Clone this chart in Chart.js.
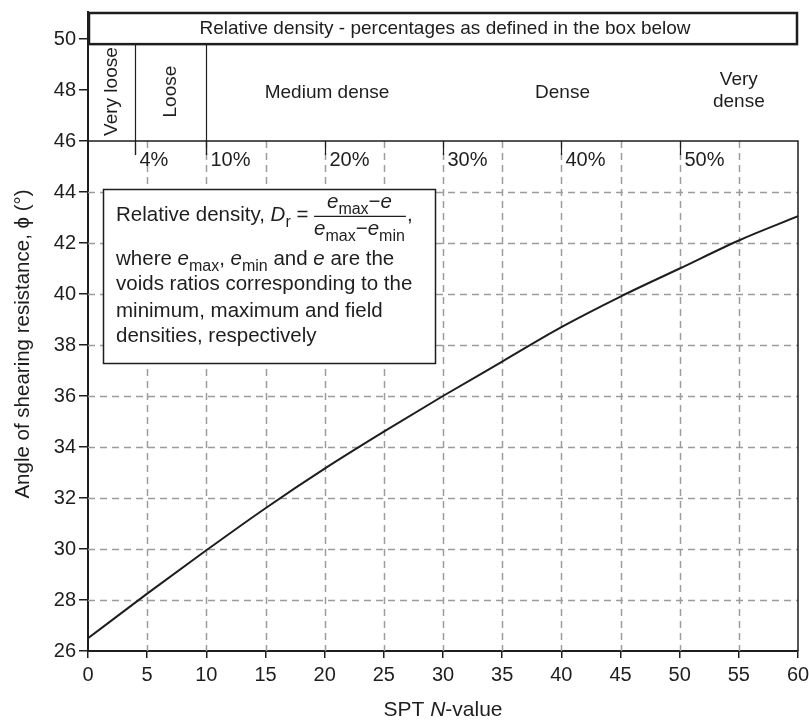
<!DOCTYPE html>
<html>
<head>
<meta charset="utf-8">
<script src="https://cdn.jsdelivr.net/npm/chart.js@4/dist/chart.umd.min.js"></script>
<style>
  html, body { margin: 0; padding: 0; background: #fff; }
  #wrap { width: 809px; height: 720px; position: relative; }
</style>
</head>
<body>
<div id="wrap"><canvas id="chart"></canvas></div>
<script>
const FONT = '"Liberation Sans", Arial, Helvetica, sans-serif';
const INK = '#1e1e1e';

// SPT N-value vs angle of shearing resistance
const nValues = [0, 5, 10, 15, 20, 25, 30, 35, 40, 45, 50, 55, 60];
const phiValues = [26.5, 28.25, 29.95, 31.6, 33.15, 34.6, 36.0, 37.35, 38.7, 39.9, 41.0, 42.1, 43.05];

const yTicks = [26, 28, 30, 32, 34, 36, 38, 40, 42, 44, 46, 48, 50];
const gridY = [28, 30, 32, 34, 36, 38, 40, 42, 44];
const gridX = [5, 10, 15, 20, 25, 30, 35, 40, 45, 50, 55];

// density classes along the top strip
const zoneDividers = [4, 10];
const percentMarks = [4, 10, 20, 30, 40, 50];
const percentLabels = ['4%', '10%', '20%', '30%', '40%', '50%'];
const zoneNames = ['Very loose', 'Loose', 'Medium dense', 'Dense', 'Very dense'];
const zoneCentres = [2, 7, 20.2, 40.1, 55];

function font(size, italic) {
  return (italic ? 'italic ' : '') + size + 'px ' + FONT;
}

// draw a row of text runs: {t, i (italic), sub}
function drawRuns(ctx, x, y, runs, size) {
  ctx.textAlign = 'left';
  ctx.textBaseline = 'alphabetic';
  for (const r of runs) {
    const s = r.sub ? Math.round(size * 0.78) : size;
    ctx.font = font(s, r.i);
    ctx.fillText(r.t, x, r.sub ? y + size * 0.28 : y);
    x += ctx.measureText(r.t).width;
  }
  return x;
}
function runsWidth(ctx, runs, size) {
  let w = 0;
  for (const r of runs) {
    ctx.font = font(r.sub ? Math.round(size * 0.78) : size, r.i);
    w += ctx.measureText(r.t).width;
  }
  return w;
}

const decor = {
  id: 'decor',
  beforeDatasetsDraw(chart) {
    const { ctx, chartArea: a, scales: { x, y } } = chart;
    ctx.save();

    // dashed grid, only in the lower part
    ctx.strokeStyle = '#9c9c9c';
    ctx.lineWidth = 1.5;
    ctx.setLineDash([7, 5]);
    for (const v of gridY) {
      const py = Math.round(y.getPixelForValue(v)) + 0.5;
      ctx.beginPath(); ctx.moveTo(a.left, py); ctx.lineTo(a.right, py); ctx.stroke();
    }
    const top46 = y.getPixelForValue(46);
    for (const v of gridX) {
      const px = Math.round(x.getPixelForValue(v)) + 0.5;
      ctx.beginPath(); ctx.moveTo(px, top46); ctx.lineTo(px, a.bottom); ctx.stroke();
    }
    ctx.setLineDash([]);

    // frame of the lower plot
    ctx.strokeStyle = INK;
    ctx.lineWidth = 1.5;
    ctx.beginPath();
    ctx.moveTo(a.left, top46); ctx.lineTo(a.right, top46); ctx.lineTo(a.right, a.bottom);
    ctx.stroke();

    // header box
    const hb = y.getPixelForValue(49.8);
    ctx.lineWidth = 2.5;
    ctx.strokeRect(a.left + 1, a.top + 1, a.right - a.left - 2, hb - a.top - 1);
    ctx.fillStyle = INK;
    ctx.font = font(19);
    ctx.textAlign = 'center';
    ctx.textBaseline = 'middle';
    ctx.fillText('Relative density - percentages as defined in the box below', (a.left + a.right) / 2 + 2, (a.top + hb) / 2 + 1);

    // class dividers and percentage marks
    const low = y.getPixelForValue(45.45);
    ctx.lineWidth = 1.2;
    for (const v of zoneDividers) {
      const px = Math.round(x.getPixelForValue(v)) + 0.5;
      ctx.beginPath(); ctx.moveTo(px, hb); ctx.lineTo(px, low); ctx.stroke();
    }
    ctx.font = font(20);
    ctx.textAlign = 'left';
    percentMarks.forEach((v, i) => {
      const px = Math.round(x.getPixelForValue(v)) + 0.5;
      ctx.beginPath(); ctx.moveTo(px, top46); ctx.lineTo(px, low); ctx.stroke();
      ctx.fillText(percentLabels[i], px + 4, y.getPixelForValue(45.25));
    });

    // class names
    const midY = (hb + top46) / 2;
    ctx.font = font(19);
    ctx.textAlign = 'center';
    zoneNames.forEach((name, i) => {
      const px = x.getPixelForValue(zoneCentres[i]);
      if (i < 2) {
        ctx.save();
        ctx.translate(px, midY - 1);
        ctx.rotate(-Math.PI / 2);
        ctx.fillText(name, 0, 0);
        ctx.restore();
      } else if (i === 4) {
        const parts = name.split(' ');
        ctx.fillText(parts[0], px, midY - 13);
        ctx.fillText(parts[1], px, midY + 9);
      } else {
        ctx.fillText(name, px, midY);
      }
    });

    // definition box
    const bx0 = x.getPixelForValue(1.27), bx1 = x.getPixelForValue(29.3);
    const by0 = y.getPixelForValue(44.12), by1 = y.getPixelForValue(37.3);
    ctx.fillStyle = '#fff';
    ctx.fillRect(bx0, by0, bx1 - bx0, by1 - by0);
    ctx.strokeStyle = INK;
    ctx.lineWidth = 1.5;
    ctx.strokeRect(Math.round(bx0) + 0.5, Math.round(by0) + 0.5, Math.round(bx1 - bx0), Math.round(by1 - by0));

    ctx.fillStyle = INK;
    const fs = 20.5, tx = bx0 + 13, base = by0 + 32;
    let cx = drawRuns(ctx, tx, base, [
      { t: 'Relative density, ' }, { t: 'D', i: true }, { t: 'r', sub: true }, { t: ' = ' }
    ], fs);
    const num = [{ t: 'e', i: true }, { t: 'max', sub: true }, { t: '\u2212' }, { t: 'e', i: true }];
    const den = [{ t: 'e', i: true }, { t: 'max', sub: true }, { t: '\u2212' }, { t: 'e', i: true }, { t: 'min', sub: true }];
    const fw = Math.max(runsWidth(ctx, num, fs), runsWidth(ctx, den, fs));
    drawRuns(ctx, cx + (fw - runsWidth(ctx, num, fs)) / 2, base - 13, num, fs);
    drawRuns(ctx, cx, base + 14, den, fs);
    ctx.lineWidth = 1.2;
    ctx.beginPath(); ctx.moveTo(cx, base - 4.5); ctx.lineTo(cx + fw + 1, base - 4.5); ctx.stroke();
    drawRuns(ctx, cx + fw + 2, base, [{ t: ',' }], fs);

    drawRuns(ctx, tx, base + 44, [
      { t: 'where ' }, { t: 'e', i: true }, { t: 'max', sub: true }, { t: ', ' },
      { t: 'e', i: true }, { t: 'min', sub: true }, { t: ' and ' }, { t: 'e', i: true }, { t: ' are the' }
    ], fs);
    drawRuns(ctx, tx, base + 69, [{ t: 'voids ratios corresponding to the' }], fs);
    drawRuns(ctx, tx, base + 96, [{ t: 'minimum, maximum and field' }], fs);
    drawRuns(ctx, tx, base + 121, [{ t: 'densities, respectively' }], fs);

    ctx.restore();
  },
  afterDraw(chart) {
    const { ctx, chartArea: a } = chart;
    ctx.save();
    ctx.fillStyle = INK;
    // x axis title with italic N
    const runs = [{ t: 'SPT ' }, { t: 'N', i: true }, { t: '-value' }];
    const w = runsWidth(ctx, runs, 21);
    drawRuns(ctx, (a.left + a.right) / 2 - w / 2, 716, runs, 21);
    // y axis title
    ctx.translate(23, 344);
    ctx.rotate(-Math.PI / 2);
    ctx.font = font(20.5);
    ctx.textAlign = 'center';
    ctx.textBaseline = 'middle';
    ctx.fillText('Angle of shearing resistance, \u03D5 (\u00B0)', 0, 0);
    ctx.restore();
  }
};

new Chart(document.getElementById('chart'), {
  type: 'line',
  data: {
    datasets: [{
      data: nValues.map((n, i) => ({ x: n, y: phiValues[i] })),
      borderColor: INK,
      borderWidth: 2,
      pointRadius: 0,
      cubicInterpolationMode: 'monotone',
      fill: false
    }]
  },
  options: {
    responsive: true,
    maintainAspectRatio: false,
    animation: false,
    layout: { padding: { top: 12, right: 0, bottom: 0, left: 0 } },
    plugins: { legend: { display: false }, tooltip: { enabled: false } },
    scales: {
      x: {
        type: 'linear',
        min: 0,
        max: 60,
        ticks: { stepSize: 5, color: INK, font: { family: FONT, size: 20 }, padding: 5, maxRotation: 0 },
        grid: { drawOnChartArea: false, tickLength: 7, color: INK, lineWidth: 1.5 },
        border: { color: INK, width: 2 },
        afterFit(s) { s.height = 69; s.paddingRight = 11; s.paddingLeft = 0; }
      },
      y: {
        type: 'linear',
        min: 26,
        max: 51.06,
        afterBuildTicks(s) { s.ticks = yTicks.map(v => ({ value: v })); },
        ticks: { color: INK, font: { family: FONT, size: 20 }, padding: 3 },
        grid: { drawOnChartArea: false, tickLength: 9, color: INK, lineWidth: 1.5 },
        border: { color: INK, width: 2 },
        afterFit(s) { s.width = 88; s.paddingTop = 0; s.paddingBottom = 0; }
      }
    }
  },
  plugins: [decor]
});
</script>
</body>
</html>
